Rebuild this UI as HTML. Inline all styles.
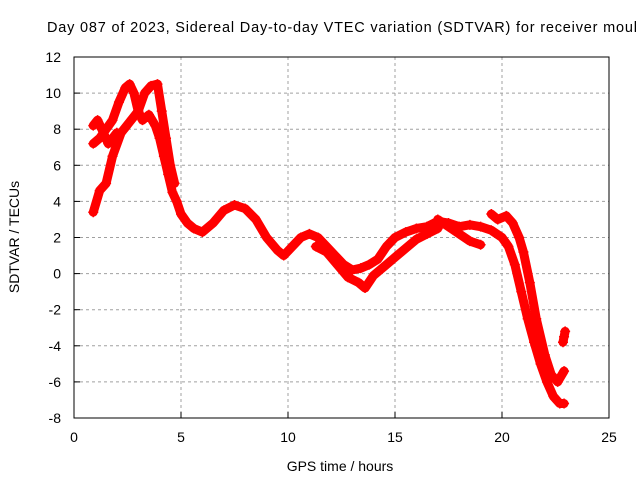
<!DOCTYPE html>
<html><head><meta charset="utf-8"><style>
body{margin:0;background:#fff}
svg{display:block}
text{font-family:"Liberation Sans",sans-serif;fill:#000}
</style></head><body>
<svg id="chart" width="640" height="480" viewBox="0 0 640 480">
<text x="47" y="32" font-size="14.5" textLength="590" lengthAdjust="spacing">Day 087 of 2023, Sidereal Day-to-day VTEC variation (SDTVAR) for receiver moul</text>
<g id="grid"></g>
<g id="axes"></g>
<g id="series"></g>
<text x="340" y="471" font-size="14" text-anchor="middle">GPS time / hours</text>
<text x="0" y="0" font-size="14" text-anchor="middle" transform="translate(19,237) rotate(-90)">SDTVAR / TECUs</text>
</svg>
<script>
const xTicks=[0,5,10,15,20,25];
const yTicks=[-8,-6,-4,-2,0,2,4,6,8,10,12];
const tA=[0.9,1.2,1.5,1.8,2.1,2.4,2.6,2.8,3.0,3.2,3.5,3.8,4.0,4.2,4.4,4.6,4.8,5.0,5.3,5.6,6.0,6.5,7.0,7.5,8.0,8.5,9.0,9.5,9.8,10.2,10.6,11.0,11.4,11.8,12.2,12.6,13.0,13.4,13.8,14.2,14.6,15.0,15.5,16.0,16.5,17.0,17.5,18.0,18.5,19.0,19.5,20.0,20.3,20.6,20.9,21.2,21.5,21.8,22.1,22.4,22.7,22.9];
const vA=[7.2,7.5,8.0,8.5,9.5,10.3,10.5,10.0,9.0,8.5,8.8,8.2,7.5,6.5,5.5,4.5,4.0,3.3,2.8,2.5,2.3,2.8,3.5,3.8,3.6,3.0,2.0,1.3,1.0,1.5,2.0,2.2,2.0,1.5,1.0,0.5,0.2,0.3,0.5,0.8,1.5,2.0,2.3,2.5,2.6,2.9,2.8,2.6,2.7,2.6,2.4,2.0,1.5,0.5,-1.0,-2.5,-3.8,-5.0,-6.0,-6.8,-7.2,-7.2];
const tB=[0.9,1.2,1.5,1.8,2.2,2.6,3.0,3.3,3.6,3.9,4.1,4.3,4.5,4.7];
const vB=[3.4,4.6,5.0,6.5,7.8,8.4,9.0,10.0,10.4,10.5,9.0,7.5,6.0,5.0];
const tC=[0.9,1.1,1.3,1.6,2.0];
const vC=[8.2,8.5,8.0,7.2,7.8];
const tD=[11.3,11.8,12.3,12.8,13.3,13.6,14.0,14.5,15.0,15.5,16.0,16.5,17.0];
const vD=[1.5,1.2,0.5,-0.2,-0.5,-0.8,-0.1,0.4,0.9,1.4,1.9,2.2,2.5];
const tE=[17.0,17.5,18.0,18.5,19.0];
const vE=[3.0,2.6,2.2,1.8,1.6];
const tF=[19.5,19.8,20.2,20.5,20.8,21.0,21.3,21.6,22.0,22.3,22.6,22.9];
const vF=[3.3,3.0,3.2,2.8,2.0,1.2,-0.5,-2.5,-4.5,-5.6,-6.0,-5.4];
const tG=[22.85,22.9,22.95];
const vG=[-3.8,-3.5,-3.2];
const NS='http://www.w3.org/2000/svg';
const L=74,R=609,T=57,B=418;
const X=t=>L+(t-0)/(25-0)*(R-L);
const Y=v=>B-(v+8)/(20)*(B-T);
function mk(tag,attrs,parent){const e=document.createElementNS(NS,tag);for(const k in attrs)e.setAttribute(k,attrs[k]);parent.appendChild(e);return e;}
const grid=document.getElementById('grid'),axes=document.getElementById('axes'),ser=document.getElementById('series');
xTicks.forEach(t=>{
  if(t>0&&t<25){const g=mk('line',{x1:X(t),x2:X(t),y1:T,y2:B,stroke:'#a0a0a0','stroke-dasharray':'3,3'},grid);
  
  }
  const tk=mk('line',{x1:X(t),x2:X(t),y1:B,y2:B-6,stroke:'#000'},axes);
  
  
  const tx=mk('text',{x:X(t),y:B+24,'font-size':14,'text-anchor':'middle'},axes);tx.textContent=t;
  
  
});
yTicks.forEach(v=>{
  if(v>-8&&v<12){const g=mk('line',{x1:L,x2:R,y1:Y(v),y2:Y(v),stroke:'#a0a0a0','stroke-dasharray':'3,3'},grid);
  
  }
  const tk=mk('line',{x1:L,x2:L+6,y1:Y(v),y2:Y(v),stroke:'#000'},axes);
  
  
  const tx=mk('text',{x:L-13,y:Y(v)+5,'font-size':14,'text-anchor':'end'},axes);tx.textContent=v;
  
  
});
const box=mk('rect',{x:L,y:T,width:R-L,height:B-T,fill:'none',stroke:'#000'},axes);


[[tA,vA,'trace-a'],[tB,vB,'trace-b'],[tC,vC,'trace-c'],[tD,vD,'trace-d'],[tE,vE,'trace-e'],[tF,vF,'trace-f'],[tG,vG,'trace-g']].forEach(([ts,vs,n])=>{
  const pts=ts.map((t,i)=>X(t)+','+Y(vs[i])).join(' ');
  const p=mk('polyline',{points:pts,fill:'none',stroke:'#ff0000','stroke-width':9,'stroke-linejoin':'round','stroke-linecap':'round'},ser);
  
  
  ts.forEach((t,i)=>{
    const m=mk('path',{d:`M${X(t)-5},${Y(vs[i])}h10M${X(t)},${Y(vs[i])-5}v10`,stroke:'#ff0000','stroke-width':1.5},ser);
    
    
  });
});
</script>
</body></html>
